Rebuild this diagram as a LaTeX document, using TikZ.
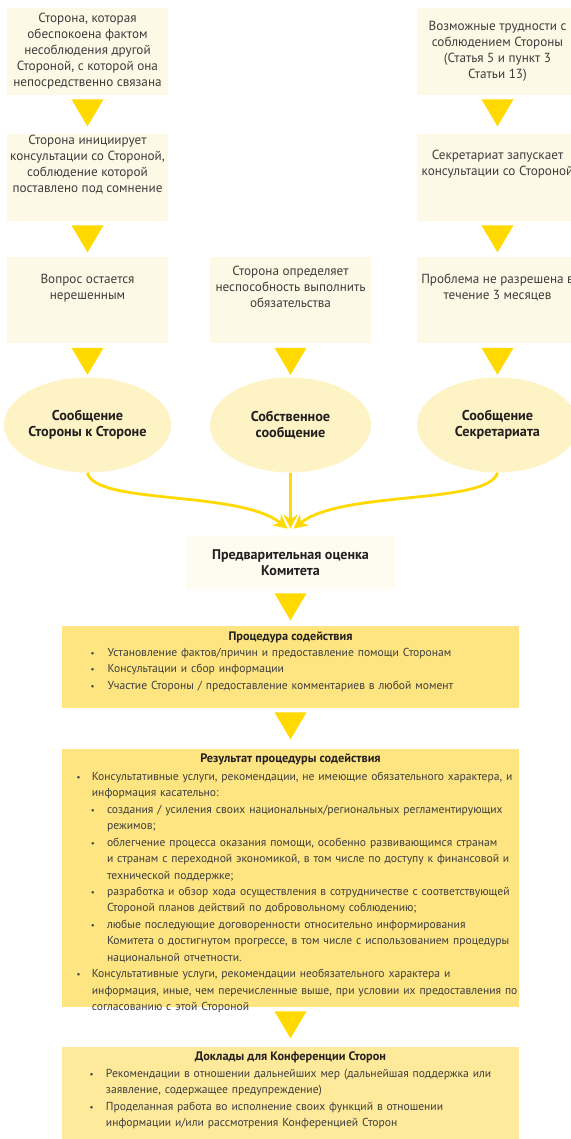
\documentclass[tikz,border=0pt]{standalone}
\usepackage{fontspec}
\setmainfont{PT Sans}
\usetikzlibrary{arrows.meta,calc,shapes.geometric,positioning}

\definecolor{cream}{HTML}{FDF9E6}
\definecolor{ovalfill}{HTML}{FEF3C4}
\definecolor{palefill}{HTML}{FEFCF1}
\definecolor{gold}{HTML}{FFD900}
\definecolor{procfill}{HTML}{FFE582}
\definecolor{reportfill}{HTML}{FFEA9C}
\definecolor{txt}{HTML}{3D3D3D}
\definecolor{darktxt}{HTML}{231F20}

% bullet line with hanging indent: #1 text indent, #2 gap bullet-text
\newcommand{\itm}[3]{\par\hangindent=#1\hangafter=0\noindent
  \llap{{\fontsize{5}{5}\selectfont\textbullet}\hspace{#2}}#3}

\begin{document}
\begin{tikzpicture}[x=0.02cm, y=-0.02cm, >=Stealth,
  every node/.style={text=txt, font=\fontsize{7.5}{9.1}\selectfont},
  stepbox/.style={fill=cream, minimum width=3.22cm, minimum height=1.74cm,
    inner sep=0pt, align=center},
  oval/.style={ellipse, fill=ovalfill, minimum width=3.22cm, minimum height=1.9cm,
    inner sep=0pt, align=center, text=darktxt,
    font=\fontsize{8.1}{9.2}\selectfont\bfseries},
  panel/.style={minimum width=9.14cm, inner sep=0pt},
  paneltitle/.style={anchor=north, inner sep=0pt, text=darktxt,
    font=\fontsize{7}{9.1}\selectfont\bfseries},
  listtext/.style={anchor=north west, text width=11cm, inner sep=0pt, align=left,
    font=\fontsize{6.6}{9.35}\selectfont},
  feed/.style={draw=gold, line width=1.6pt, -{Stealth[length=8pt,width=8pt]}},
  tri/.style={fill=gold}]

\useasboundingbox (0,0) rectangle (571,1139);

% =========================================================
% TOP: three columns of steps
% =========================================================
\node[stepbox] (pa) at (87.5,51.5)
  {Сторона, которая\\обеспокоена фактом\\несоблюдения другой\\Стороной, с которой она\\непосредственно связана};
\node[stepbox] (pb) at (87.5,177.5)
  {Сторона инициирует\\консультации со Стороной,\\соблюдение которой\\поставлено под сомнение\\[6pt]};
\node[stepbox] (pc) at (87.5,300) {Вопрос остается\\нерешенным\\[6pt]};

\node[stepbox] (oc) at (290.5,300)
  {Сторона определяет\\неспособность выполнить\\обязательства\\[6pt]};

\node[stepbox] (sa) at (497.5,51.5)
  {Возможные трудности с\\соблюдением Стороны\\(Статья 5 и пункт 3\\Статьи 13)};
\node[stepbox] (sb) at (497.5,177.5) {Секретариат запускает\\консультации со Стороной\\[8pt]};
\node[stepbox] (sc) at (497.5,300) {Проблема не разрешена в\\течение 3 месяцев\\[6pt]};

% communications
\node[oval] (ml) at (87.5,425) {Сообщение\\Стороны к Стороне};
\node[oval] (mm) at (290.5,425) {Собственное\\сообщение};
\node[oval] (mr) at (497.5,425) {Сообщение\\Секретариата};

% =========================================================
% BOTTOM: committee
% =========================================================
\node[fill=palefill, minimum width=4.18cm, minimum height=1.06cm, inner sep=0pt,
  align=center, text=darktxt, font=\fontsize{8}{9.2}\selectfont\bfseries]
  (pre) at (290.5,562.5) {Предварительная оценка\\Комитета};

% assistance procedure
\node[panel, fill=procfill, minimum height=1.64cm] (proc) at (290.5,667) {};
\node[paneltitle] (procTitle) at ($(proc.north)+(0,6)$) {Процедура содействия};
\node[listtext] (procList) at ($(proc.north west)+(0,14)$) {%
  \itm{26pt}{7.5pt}{Установление фактов/причин и предоставление помощи Сторонам}
  \itm{26pt}{7.5pt}{Консультации и сбор информации}
  \itm{26pt}{7.5pt}{Участие Стороны / предоставление комментариев в любой момент}\par};

% outcome of the procedure
\node[panel, fill=procfill, minimum height=5.16cm] (res) at (290.5,878) {};
\node[paneltitle] (resTitle) at ($(res.north)+(0,5)$) {Результат процедуры содействия};
\node[listtext] (resList) at ($(res.north west)+(0,15)$) {%
  \itm{17pt}{6.5pt}{Консультативные услуги, рекомендации, не имеющие обязательного характера, и\newline информация касательно:}
  \itm{25.6pt}{7pt}{создания / усиления своих национальных/региональных регламентирующих\newline режимов;}
  \itm{25.6pt}{7pt}{облегчение процесса оказания помощи, особенно развивающимся странам\newline и странам с переходной экономикой, в том числе по доступу к финансовой и\newline технической поддержке;}
  \itm{25.6pt}{7pt}{разработка и обзор хода осуществления в сотрудничестве с соответствующей\newline Стороной планов действий по добровольному соблюдению;}
  \itm{25.6pt}{7pt}{любые последующие договоренности относительно информирования\newline Комитета о достигнутом прогрессе, в том числе с использованием процедуры\newline национальной отчетности.}
  \itm{17pt}{6.5pt}{Консультативные услуги, рекомендации необязательного характера и\newline информация, иные, чем перечисленные выше, при условии их предоставления по\newline согласованию с этой Стороной}\par};

% reports to the conference
\node[panel, fill=reportfill, minimum height=1.84cm] (rep) at (290.5,1093) {};
\node[paneltitle] (repTitle) at ($(rep.north)+(0,5)$) {Доклады для Конференции Сторон};
\node[listtext] (repList) at ($(rep.north west)+(0,14)$) {%
  \itm{25pt}{7pt}{Рекомендации в отношении дальнейших мер (дальнейшая поддержка или\newline заявление, содержащее предупреждение)}
  \itm{25pt}{7pt}{Проделанная работа во исполнение своих функций в отношении\newline информации и/или рассмотрения Конференцией Сторон}\par};

% down triangles between steps
\foreach \n in {pa,pb,pc,oc,sa,sb,sc,pre,proc,res}
  \fill[tri] ($(\n.south)+(-16,4)$) -- ($(\n.south)+(16,4)$)
    -- ($(\n.south)+(0,31)$) -- cycle;

% communications merge into the committee
\draw[feed] (ml.south) .. controls (95,505) and (240,490) .. ($(pre.north)+(-3,-7)$);
\draw[feed] (mm.south) -- ($(pre.north)+(0,-7)$);
\draw[feed] (mr.south) .. controls (488,505) and (341,490) .. ($(pre.north)+(3,-7)$);

\end{tikzpicture}
\end{document}
